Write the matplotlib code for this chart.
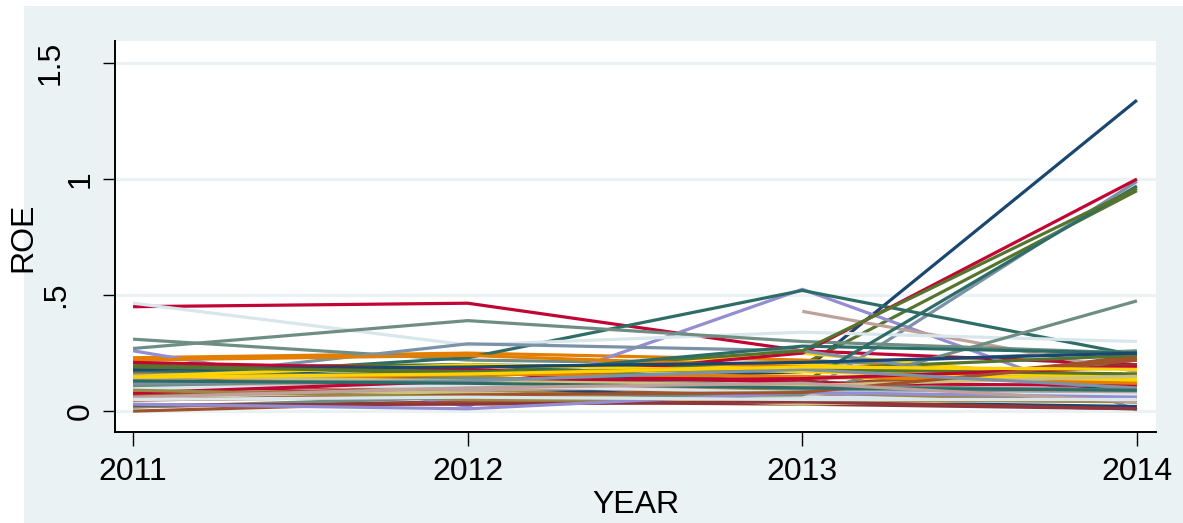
import numpy as np
import matplotlib
matplotlib.use("Agg")
import matplotlib.pyplot as plt
from matplotlib.patches import Rectangle

plt.rcParams['font.family'] = ['Liberation Sans', 'DejaVu Sans']

years = [2011, 2012, 2013, 2014]
nan = np.nan

# ROE by firm, one row per firm (2011-2014)
roe = [
    [0.17, 0.12, 0.17, 1.34],
    [0.02, 0.04, 0.03, 0.01],
    [0.18, 0.19, 0.20, 0.95],
    [0.23, 0.25, 0.22, 0.15],
    [0.31, 0.22, 0.20, 0.26],
    [0.45, 0.465, 0.26, 0.20],
    [0.26, 0.02, 0.525, 0.005],
    [0.08, 0.09, 0.10, 0.08],
    [0.00, 0.04, 0.05, 0.24],
    [0.11, 0.13, 0.07, 0.99],
    [0.14, 0.23, 0.52, 0.24],
    [0.13, 0.09, 0.06, 0.05],
    [nan, nan, 0.43, 0.17],
    [0.14, 0.17, 0.25, 0.12],
    [0.465, 0.285, 0.34, 0.30],

    [0.19, 0.14, 0.08, 0.10],
    [0.17, 0.12, 0.11, 0.20],
    [0.19, 0.20, 0.18, 0.24],
    [0.13, 0.12, 0.09, 0.04],
    [0.27, 0.39, 0.30, 0.25],
    [0.08, 0.12, 0.25, 1.00],
    [0.08, 0.05, 0.06, 0.07],
    [0.12, 0.19, 0.14, 0.16],
    [0.05, 0.06, 0.10, 0.22],
    [0.13, 0.29, 0.26, 0.06],
    [0.16, 0.20, 0.12, 0.97],
    [0.10, 0.05, 0.04, 0.10],
    [0.12, 0.10, 0.09, 0.07],
    [0.13, 0.15, 0.20, 0.14],
    [0.09, 0.07, 0.06, 0.05],

    [0.15, 0.11, 0.04, 0.02],
    [0.16, 0.14, 0.13, 0.05],
    [0.20, 0.16, 0.26, 0.96],
    [0.22, 0.24, 0.19, 0.10],
    [0.017, 0.06, 0.07, 0.475],
    [0.21, 0.18, 0.12, 0.11],
    [0.13, 0.12, 0.10, 0.08],
    [0.065, 0.08, 0.03, 0.06],
    [0.07, 0.10, 0.09, 0.23],
    [0.16, 0.11, 0.09, 0.07],
    [0.17, 0.15, 0.28, 0.25],
    [0.16, 0.15, 0.08, 0.04],
    [0.14, 0.09, 0.11, 0.08],
    [0.15, 0.20, 0.17, 0.13],
    [0.10, 0.11, 0.08, 0.07],

    [0.18, 0.19, 0.21, 0.25],
    [0.026, 0.03, 0.04, 0.01],
    [0.19, 0.17, 0.18, 0.16],
    [0.12, 0.16, 0.15, 0.12],
    [0.11, 0.14, 0.11, 0.09],
    [0.078, 0.13, 0.14, 0.19],
    [0.03, 0.01, 0.08, 0.06],
    [0.15, 0.13, 0.11, 0.15],
    [0.047, 0.07, 0.08, 0.22],
    [0.12, 0.13, 0.18, 0.10],
    [0.13, 0.12, 0.10, 0.09],
    [0.09, 0.06, 0.05, 0.04],
    [0.06, 0.10, 0.12, 0.04],
    [0.146, 0.16, 0.19, 0.18],
    [0.05, 0.06, 0.05, 0.05],
]

ytick_values = [0, 0.5, 1, 1.5]
ytick_labels = ["0", ".5", "1", "1.5"]

# Stata s2color line palette
palette = [
    (26, 71, 111), (144, 53, 59), (85, 117, 47), (227, 126, 0),
    (110, 142, 132), (193, 5, 52), (147, 141, 210), (202, 194, 126),
    (160, 82, 45), (123, 146, 168), (45, 109, 102), (156, 136, 71),
    (191, 161, 156), (255, 210, 0), (217, 230, 235),
]
palette = [tuple(c / 255 for c in rgb) for rgb in palette]
bg = '#EAF2F3'

W, H = 1183, 523
fig = plt.figure(figsize=(W / 100, H / 100), dpi=100, facecolor='white')
fig.patches.append(Rectangle((24 / W, 0), 1 - 24 / W, 1 - 6 / H,
                             transform=fig.transFigure, facecolor=bg,
                             edgecolor='none', zorder=-10))

ax = fig.add_axes([115 / W, 1 - 432 / H, (1156 - 115) / W, (432 - 41) / H])
ax.set_zorder(5)
ax.set_facecolor('white')

for i, series in enumerate(roe):
    ax.plot(years, series, color=palette[i % len(palette)], lw=2.3,
            solid_capstyle='butt', zorder=2)

ax.set_xlim(2011 - 0.054, 2014 + 0.057)
ax.set_ylim(-0.09, 1.595)

for v in ytick_values:
    ax.axhline(v, color=bg, lw=2.2, zorder=1)

for s in ['top', 'right']:
    ax.spines[s].set_visible(False)
for s in ['left', 'bottom']:
    ax.spines[s].set_linewidth(1.4)
    ax.spines[s].set_color('black')

ax.set_xticks(years)
ax.set_xticklabels([str(y) for y in years], fontsize=23)
ax.tick_params(axis='x', length=10, width=1.0, pad=8, direction='out')

ax.set_yticks(ytick_values)
ax.set_yticklabels([])
ax.tick_params(axis='y', length=8.5, width=1.0, direction='out')

# rotated y tick labels (wider labels sit further from the axis)
ytrans = ax.get_yaxis_transform()
for v, lab in zip(ytick_values, ytick_labels):
    xpix = 81 if len(lab) == 1 else (56 if len(lab) == 2 else 50.5)
    ax.text((xpix - 115) / (1156 - 115), v, lab, transform=ytrans,
            rotation=90, ha='center', va='center', fontsize=23)

fig.text((115 + 1156) / 2 / W, 1 - 505 / H, "YEAR", ha='center', va='center',
         fontsize=23)
fig.text(23 / W, 1 - 237 / H, "ROE", ha='center', va='center',
         rotation=90, fontsize=23)

fig.savefig('out.png', dpi=100, facecolor='white')
